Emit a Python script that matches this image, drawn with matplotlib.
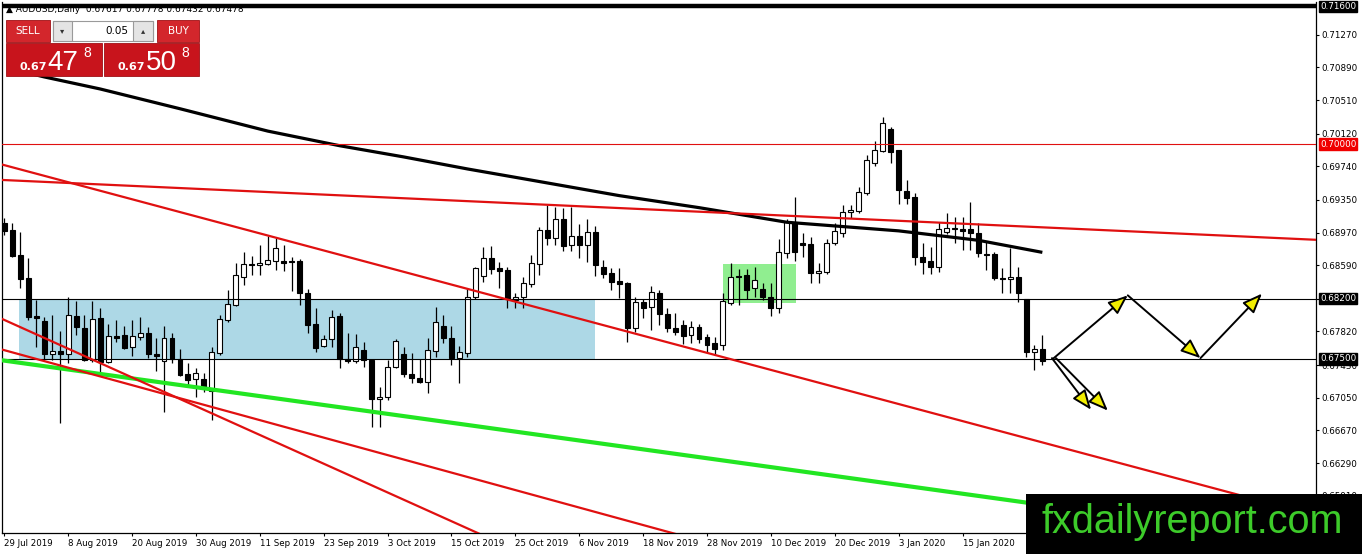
import matplotlib
matplotlib.use('Agg')
import matplotlib.pyplot as plt
from matplotlib import transforms, font_manager
from matplotlib.patches import Rectangle, FancyArrowPatch

# ---------------- data ----------------
opens = [0.6908, 0.6900, 0.6871, 0.6844, 0.6800, 0.6794, 0.6756, 0.6759, 0.6756, 0.6800,
         0.6786, 0.6749, 0.6798, 0.6747, 0.6777, 0.6778, 0.6764, 0.6776, 0.6780, 0.6756,
         0.6748, 0.6774, 0.6750, 0.6733, 0.6727, 0.6727, 0.6713, 0.6757, 0.6795, 0.6813,
         0.6845, 0.6860, 0.6859, 0.6860, 0.6864, 0.6864, 0.6864, 0.6864, 0.6827, 0.6791,
         0.6765, 0.6773, 0.6800, 0.6750, 0.6748, 0.6760, 0.6749, 0.6703, 0.6706, 0.6741,
         0.6756, 0.6733, 0.6728, 0.6723, 0.6759, 0.6788, 0.6774, 0.6751, 0.6757, 0.6822,
         0.6847, 0.6867, 0.6856, 0.6853, 0.6819, 0.6822, 0.6837, 0.6860, 0.6900, 0.6891,
         0.6913, 0.6883, 0.6893, 0.6883, 0.6898, 0.6857, 0.6850, 0.6841, 0.6838, 0.6786,
         0.6816, 0.6810, 0.6827, 0.6802, 0.6786, 0.6790, 0.6778, 0.6787, 0.6776, 0.6769,
         0.6766, 0.6815, 0.6847, 0.6848, 0.6833, 0.6831, 0.6822, 0.6809, 0.6873, 0.6908,
         0.6885, 0.6884, 0.6850, 0.6851, 0.6885, 0.6897, 0.6921, 0.6922, 0.6943, 0.6978,
         0.6992, 0.7017, 0.6993, 0.6945, 0.6938, 0.6869, 0.6864, 0.6857, 0.6898, 0.6902,
         0.6901, 0.6901, 0.6897, 0.6872, 0.6872, 0.6844, 0.6843, 0.6845, 0.6820, 0.6758,
         0.67617]
highs = [0.6914, 0.6908, 0.6898, 0.6867, 0.6819, 0.6799, 0.6801, 0.6783, 0.6822, 0.6817,
         0.6801, 0.6817, 0.6809, 0.6791, 0.6795, 0.6788, 0.6795, 0.6799, 0.6787, 0.6774,
         0.6788, 0.6780, 0.6762, 0.6745, 0.6740, 0.6734, 0.6764, 0.6801, 0.6830, 0.6862,
         0.6874, 0.6870, 0.6883, 0.6893, 0.6891, 0.6883, 0.6869, 0.6866, 0.6831, 0.6809,
         0.6778, 0.6807, 0.6803, 0.6780, 0.6779, 0.6770, 0.6749, 0.6717, 0.6749, 0.6773,
         0.6764, 0.6757, 0.6750, 0.6774, 0.6810, 0.6801, 0.6788, 0.6765, 0.6833, 0.6857,
         0.6880, 0.6881, 0.6863, 0.6857, 0.6827, 0.6845, 0.6871, 0.6903, 0.6929, 0.6927,
         0.6926, 0.6927, 0.6907, 0.6913, 0.6905, 0.6865, 0.6856, 0.6856, 0.6840, 0.6822,
         0.6820, 0.6835, 0.6830, 0.6809, 0.6803, 0.6795, 0.6794, 0.6791, 0.6779, 0.6776,
         0.6827, 0.6862, 0.6855, 0.6855, 0.6857, 0.6838, 0.6838, 0.6890, 0.6913, 0.6938,
         0.6897, 0.6892, 0.6862, 0.6890, 0.6908, 0.6929, 0.6929, 0.6950, 0.6987, 0.7003,
         0.7031, 0.7020, 0.6993, 0.6958, 0.6943, 0.6885, 0.6880, 0.6909, 0.6920, 0.6915,
         0.6915, 0.6933, 0.6908, 0.6886, 0.6874, 0.6856, 0.6879, 0.6857, 0.6820, 0.6766,
         0.67778]
lows = [0.6894, 0.6869, 0.6833, 0.6795, 0.6764, 0.6749, 0.6749, 0.6676, 0.6745, 0.6778,
        0.6748, 0.6747, 0.6735, 0.6745, 0.6770, 0.6762, 0.6753, 0.6772, 0.6751, 0.6736,
        0.6688, 0.6745, 0.6730, 0.6717, 0.6706, 0.6712, 0.6679, 0.6755, 0.6793, 0.6812,
        0.6836, 0.6848, 0.6848, 0.6859, 0.6853, 0.6852, 0.6829, 0.6813, 0.6780, 0.6758,
        0.6764, 0.6764, 0.6740, 0.6745, 0.6745, 0.6741, 0.6671, 0.6671, 0.6702, 0.6740,
        0.6729, 0.6722, 0.6722, 0.6710, 0.6752, 0.6769, 0.6743, 0.6722, 0.6752, 0.6820,
        0.6840, 0.6849, 0.6833, 0.6809, 0.6809, 0.6809, 0.6834, 0.6848, 0.6883, 0.6883,
        0.6876, 0.6876, 0.6867, 0.6863, 0.6847, 0.6844, 0.6830, 0.6821, 0.6770, 0.6781,
        0.6798, 0.6784, 0.6790, 0.6781, 0.6778, 0.6767, 0.6769, 0.6769, 0.6757, 0.6755,
        0.6760, 0.6813, 0.6813, 0.6820, 0.6822, 0.6819, 0.6800, 0.6803, 0.6867, 0.6864,
        0.6869, 0.6838, 0.6838, 0.6849, 0.6883, 0.6892, 0.6914, 0.6920, 0.6941, 0.6974,
        0.6991, 0.6978, 0.6930, 0.6930, 0.6859, 0.6849, 0.6849, 0.6851, 0.6895, 0.6885,
        0.6877, 0.6877, 0.6869, 0.6853, 0.6842, 0.6827, 0.6827, 0.6816, 0.6752, 0.6737,
        0.67432]
closes = [0.6899, 0.6870, 0.6843, 0.6799, 0.6798, 0.6756, 0.6759, 0.6756, 0.6801, 0.6787,
          0.6749, 0.6797, 0.6747, 0.6777, 0.6774, 0.6763, 0.6777, 0.6780, 0.6756, 0.6753,
          0.6774, 0.6750, 0.6731, 0.6726, 0.6734, 0.6717, 0.6758, 0.6797, 0.6814, 0.6848,
          0.6860, 0.6859, 0.6862, 0.6865, 0.6879, 0.6862, 0.6863, 0.6827, 0.6790, 0.6763,
          0.6773, 0.6799, 0.6750, 0.6748, 0.6764, 0.6749, 0.6703, 0.6706, 0.6741, 0.6771,
          0.6733, 0.6728, 0.6723, 0.6760, 0.6793, 0.6774, 0.6751, 0.6758, 0.6822, 0.6856,
          0.6867, 0.6855, 0.6852, 0.6820, 0.6822, 0.6838, 0.6862, 0.6900, 0.6891, 0.6913,
          0.6881, 0.6893, 0.6883, 0.6898, 0.6859, 0.6849, 0.6840, 0.6837, 0.6786, 0.6816,
          0.6809, 0.6828, 0.6802, 0.6786, 0.6781, 0.6777, 0.6787, 0.6773, 0.6766, 0.6762,
          0.6817, 0.6845, 0.6845, 0.6830, 0.6842, 0.6822, 0.6809, 0.6874, 0.6909, 0.6874,
          0.6883, 0.6850, 0.6852, 0.6885, 0.6899, 0.6921, 0.6923, 0.6944, 0.6981, 0.6993,
          0.7024, 0.6991, 0.6947, 0.6937, 0.6869, 0.6863, 0.6857, 0.6901, 0.6902, 0.6901,
          0.6899, 0.6897, 0.6873, 0.6871, 0.6844, 0.6843, 0.6845, 0.6827, 0.6758, 0.6762,
          0.67478]

date_labels = ['29 Jul 2019', '8 Aug 2019', '20 Aug 2019', '30 Aug 2019', '11 Sep 2019',
               '23 Sep 2019', '3 Oct 2019', '15 Oct 2019', '25 Oct 2019', '6 Nov 2019',
               '18 Nov 2019', '28 Nov 2019', '10 Dec 2019', '20 Dec 2019', '3 Jan 2020',
               '15 Jan 2020']
label_step = 8

price_ticks = [0.7127, 0.7089, 0.7051, 0.7012, 0.6974, 0.6935, 0.6897, 0.6859,
               0.6820, 0.6782, 0.6743, 0.6705, 0.6667, 0.6629, 0.6591]

# 200-day moving average (bar index, price)
ma_x = [1, 5, 12, 22, 33, 42, 50, 58, 66, 77, 87, 98, 112, 122, 130]
ma_y = [0.7087, 0.7078, 0.7064, 0.7041, 0.7015, 0.6998, 0.6985, 0.6971, 0.6958,
        0.6940, 0.6926, 0.6909, 0.6899, 0.6888, 0.6874]

# horizontal levels
level_red = 0.7000
level_top = 0.7160
level_res = 0.6820
level_sup = 0.6750

# trend lines (bar index pairs, price pairs)
red_trend_x = [[-1, 165], [-1, 165], [-1, 62], [-1, 90]]
red_trend_y = [[0.69585, 0.68883], [0.69779, 0.65662], [0.67996, 0.65363], [0.67628, 0.65315]]
green_trend_x = [-1, 135]
green_trend_y = [0.67494, 0.65740]

# zones (bar from, bar to, price low, price high)
blue_zone = [1.84, 74.0, 0.6750, 0.6820]
green_zone = [90.0, 99.15, 0.6815, 0.6861]

# scenario arrows
arrow_x0 = [131.3, 140.7, 149.8, 131.2, 131.7]
arrow_y0 = [0.6750, 0.6824, 0.6751, 0.6751, 0.6751]
arrow_x1 = [140.7, 149.8, 157.5, 136.1, 138.2]
arrow_y1 = [0.6824, 0.6751, 0.6826, 0.6691, 0.6690]

# ---------------- figure ----------------
W, H = 1362, 554
fig = plt.figure(figsize=(W / 100, H / 100), dpi=100, facecolor='white')


def fx(x):
    return x / W


def fy(y):
    return 1 - y / H


ax = fig.add_axes([fx(2), fy(533), (1316 - 2) / W, (533 - 2) / H])
ax.set_facecolor('white')
ax.set_xlim(-0.29, 164.27)
ax.set_ylim(0.654767, 0.716512)

RED = '#E01010'

# zones
ax.add_patch(Rectangle((blue_zone[0], blue_zone[2]), blue_zone[1] - blue_zone[0],
                       blue_zone[3] - blue_zone[2], fc='#ADD8E6', ec='none', zorder=1))
ax.add_patch(Rectangle((green_zone[0], green_zone[2]), green_zone[1] - green_zone[0],
                       green_zone[3] - green_zone[2], fc='#90EE90', ec='none', zorder=1))

# candles
idx = list(range(len(opens)))
ax.vlines(idx, lows, highs, color='black', lw=0.9, zorder=3)
bottoms = [min(o, c) for o, c in zip(opens, closes)]
heights = [max(abs(c - o), 0.00002) for o, c in zip(opens, closes)]
fcs = ['white' if c >= o else 'black' for o, c in zip(opens, closes)]
ax.bar(idx, heights, bottom=bottoms, width=0.62, color=fcs, edgecolor='black',
       linewidth=0.8, zorder=3.1)

# moving average
ax.plot(ma_x, ma_y, color='black', lw=2.3, zorder=4, solid_capstyle='butt',
        solid_joinstyle='round')

# levels
ax.axhline(level_red, color=RED, lw=0.8, zorder=4)
ax.axhline(level_res, color='black', lw=0.8, zorder=4)
ax.axhline(level_sup, color='black', lw=0.8, zorder=4)
ax.axhline(level_top, color='black', lw=3.2, zorder=6)

# trend lines
for xs, ys in zip(red_trend_x, red_trend_y):
    ax.plot(xs, ys, color=RED, lw=1.6, zorder=4.2)
ax.plot(green_trend_x, green_trend_y, color='#22E622', lw=3.0, zorder=4.1)

# arrows
for a, b, c, d in zip(arrow_x0, arrow_y0, arrow_x1, arrow_y1):
    ax.add_patch(FancyArrowPatch((a, b), (c, d),
                                 arrowstyle='-|>,head_length=1.0,head_width=0.4',
                                 mutation_scale=12, fc='#F2EE00', ec='black', lw=1.4,
                                 shrinkA=0, shrinkB=0, zorder=6))

# axes styling
for s in ['left', 'right', 'bottom']:
    ax.spines[s].set_color('black')
    ax.spines[s].set_linewidth(0.9)
ax.spines['top'].set_visible(False)

ax.yaxis.tick_right()
ax.set_yticks(price_ticks)
ax.set_yticklabels([f'{v:.5f}' for v in price_ticks])
ax.tick_params(axis='y', direction='out', length=2.5, width=0.8, pad=1.2,
               labelsize=6.3, colors='black')
ax.set_xticks(list(range(0, label_step * len(date_labels), label_step)))
ax.set_xticklabels(date_labels, ha='left')
ax.tick_params(axis='x', direction='out', length=2.5, width=0.8, pad=1.5,
               labelsize=6.2, colors='black')
for lab in ax.get_xticklabels():
    lab.set_horizontalalignment('left')

# boxed price labels on the right scale
trans = transforms.blended_transform_factory(ax.transAxes, ax.transData)
xlab = (1320 - 2) / 1314
for val, bg in [(level_top, 'black'), (level_red, '#F00000'), (level_res, 'black'),
                (level_sup, 'black')]:
    ax.text(xlab, val, f'{val:.5f}', transform=trans, ha='left', va='center',
            fontsize=6.3, color='white', clip_on=False, zorder=20,
            bbox=dict(boxstyle='square,pad=0.12', fc=bg, ec=bg))

# header
ax.text(fx(6), fy(10), '\u25B2 AUDUSD,Daily  0.67617 0.67778 0.67432 0.67478',
        transform=fig.transFigure, fontsize=6.5, color='black', ha='left',
        va='center', zorder=5, clip_on=False)

# ---------------- trade panel ----------------
names = {f.name for f in font_manager.fontManager.ttflist}
big_family = 'Liberation Sans Narrow' if 'Liberation Sans Narrow' in names else 'Liberation Sans'
big_size = 24 if big_family == 'Liberation Sans Narrow' else 20


def prect(x0, y0, x1, y1, **kw):
    fig.add_artist(Rectangle((fx(x0), fy(y1)), (x1 - x0) / W, (y1 - y0) / H,
                             transform=fig.transFigure, zorder=8, **kw))


def ptext(x, y, s, **kw):
    fig.text(fx(x), fy(y), s, zorder=9, **kw)


BTN = '#D3262C'
BOX = '#C8141C'
prect(6, 20, 50, 42, fc=BTN, ec='#A01015', lw=0.6)
prect(157, 20, 199, 42, fc=BTN, ec='#A01015', lw=0.6)
prect(53, 21, 153, 41, fc='white', ec='#9A9A9A', lw=0.8)
prect(53, 21, 72, 41, fc='#E4E4E4', ec='#9A9A9A', lw=0.8)
prect(133, 21, 153, 41, fc='#E4E4E4', ec='#9A9A9A', lw=0.8)
prect(6, 43, 102, 76, fc=BOX, ec='#A01015', lw=0.6)
prect(104, 43, 199, 76, fc=BOX, ec='#A01015', lw=0.6)

ptext(28, 31, 'SELL', fontsize=7.5, color='white', ha='center', va='center')
ptext(178, 31, 'BUY', fontsize=7.5, color='white', ha='center', va='center')
ptext(62.5, 31, '\u25BE', fontsize=6, color='#333333', ha='center', va='center')
ptext(143, 31, '\u25B4', fontsize=6, color='#333333', ha='center', va='center')
ptext(128, 31, '0.05', fontsize=7.5, color='black', ha='right', va='center')

ptext(20, 70, '0.67', fontsize=8, fontweight='bold', color='white', ha='left', va='baseline')
ptext(47, 70, '47', fontsize=big_size, family=big_family, color='white', ha='left', va='baseline')
ptext(83, 57, '8', fontsize=10, family='Liberation Sans', color='white', ha='left', va='baseline')
ptext(117, 70, '0.67', fontsize=8, fontweight='bold', color='white', ha='left', va='baseline')
ptext(146, 70, '50', fontsize=big_size, family=big_family, color='white', ha='left', va='baseline')
ptext(181, 57, '8', fontsize=10, family='Liberation Sans', color='white', ha='left', va='baseline')

# ---------------- watermark ----------------
prect(1026, 494, 1362, 554, fc='black', ec='none')
ptext(1042, 533, 'fxdailyreport.com', fontsize=28.5, family='Liberation Sans',
      color='#3DCB2A', ha='left', va='baseline')

fig.savefig('out.png', dpi=100, facecolor='white')
